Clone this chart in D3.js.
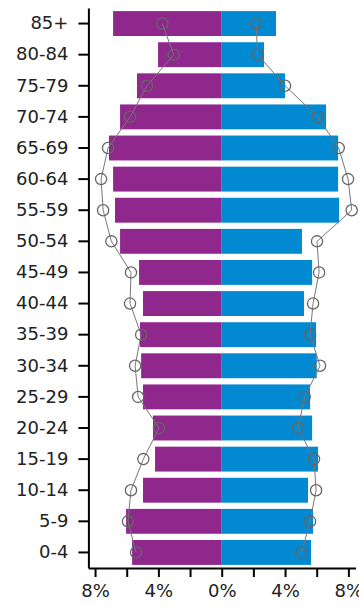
<!DOCTYPE html>
<html>
<head>
<meta charset="utf-8">
<script src="https://cdn.jsdelivr.net/npm/d3@7"></script>
<style>
html,body{margin:0;padding:0;background:#fff;}
svg{display:block;}
</style>
</head>
<body>
<svg id="chart" width="359" height="607"></svg>
<script>
const ageGroups = ["85+","80-84","75-79","70-74","65-69","60-64","55-59","50-54","45-49","40-44","35-39","30-34","25-29","20-24","15-19","10-14","5-9","0-4"];
const leftBars   = [6.86,4.02,5.35,6.42,7.12,6.86,6.74,6.42,5.22,4.97,5.16,5.09,4.97,4.34,4.21,4.97,6.04,5.66];
const rightBars  = [3.43,2.67,4.00,6.59,7.35,7.35,7.41,5.07,5.71,5.20,5.96,6.00,5.58,5.71,6.08,5.45,5.77,5.64];
const leftRef    = [3.75,3.03,4.72,5.79,7.18,7.62,7.49,6.97,5.73,5.79,5.09,5.47,5.28,3.96,4.95,5.73,5.92,5.41];
const rightRef   = [2.17,2.27,4.00,6.06,7.39,7.98,8.21,6.02,6.15,5.77,5.58,6.21,5.24,4.82,5.83,5.96,5.58,5.05];
const xTickValues = [-8,-6,-4,-2,0,2,4,6,8];
const xTickLabels = {"-8":"8%","-4":"4%","0":"0%","4":"4%","8":"8%"};

const svg = d3.select("#chart");
const x = d3.scaleLinear().domain([-8.42, 8.45]).range([88.4, 355.5]);
const y = d3.scaleBand().domain(ageGroups).range([8, 568]).paddingInner(0.2).paddingOuter(0.1);

const purple = "#90278C";
const blue = "#0189D1";

// bars
svg.append("g").selectAll("rect").data(ageGroups).join("rect")
  .attr("x", (d,i) => x(-leftBars[i]))
  .attr("y", d => y(d))
  .attr("width", (d,i) => x(0) - x(-leftBars[i]))
  .attr("height", y.bandwidth())
  .attr("fill", purple);
svg.append("g").selectAll("rect").data(ageGroups).join("rect")
  .attr("x", x(0))
  .attr("y", d => y(d))
  .attr("width", (d,i) => x(rightBars[i]) - x(0))
  .attr("height", y.bandwidth())
  .attr("fill", blue);

// reference lines + circles
const cy = d => y(d) + y.bandwidth()/2;
const lineL = d3.line().x((d,i) => x(-leftRef[i])).y(d => cy(d));
const lineR = d3.line().x((d,i) => x(rightRef[i])).y(d => cy(d));
svg.append("path").datum(ageGroups).attr("d", lineL).attr("fill","none").attr("stroke","#777").attr("stroke-width",1);
svg.append("path").datum(ageGroups).attr("d", lineR).attr("fill","none").attr("stroke","#777").attr("stroke-width",1);
svg.append("g").selectAll("circle").data(ageGroups).join("circle")
  .attr("cx", (d,i) => x(-leftRef[i])).attr("cy", cy).attr("r", 5.6)
  .attr("fill","none").attr("stroke","#666").attr("stroke-width",1.3);
svg.append("g").selectAll("circle").data(ageGroups).join("circle")
  .attr("cx", (d,i) => x(rightRef[i])).attr("cy", cy).attr("r", 5.6)
  .attr("fill","none").attr("stroke","#666").attr("stroke-width",1.3);

// axes
const yAxis = svg.append("g").attr("transform", `translate(${x.range()[0]},0)`)
  .call(d3.axisLeft(y).tickSize(10).tickPadding(10).tickSizeOuter(0));
const xAxis = svg.append("g").attr("transform", "translate(0,568)")
  .call(d3.axisBottom(x).tickValues(xTickValues).tickSize(9).tickPadding(7).tickSizeOuter(0)
    .tickFormat(d => xTickLabels[String(d)] || ""));
[yAxis, xAxis].forEach(g => {
  g.select(".domain").attr("stroke","#000").attr("stroke-width",2);
  g.selectAll(".tick line").attr("stroke","#000").attr("stroke-width",2);
  g.selectAll(".tick text").attr("fill","#222").style("font-family","'DejaVu Sans', Verdana, sans-serif").style("font-size","18px");
});
</script>
</body>
</html>
